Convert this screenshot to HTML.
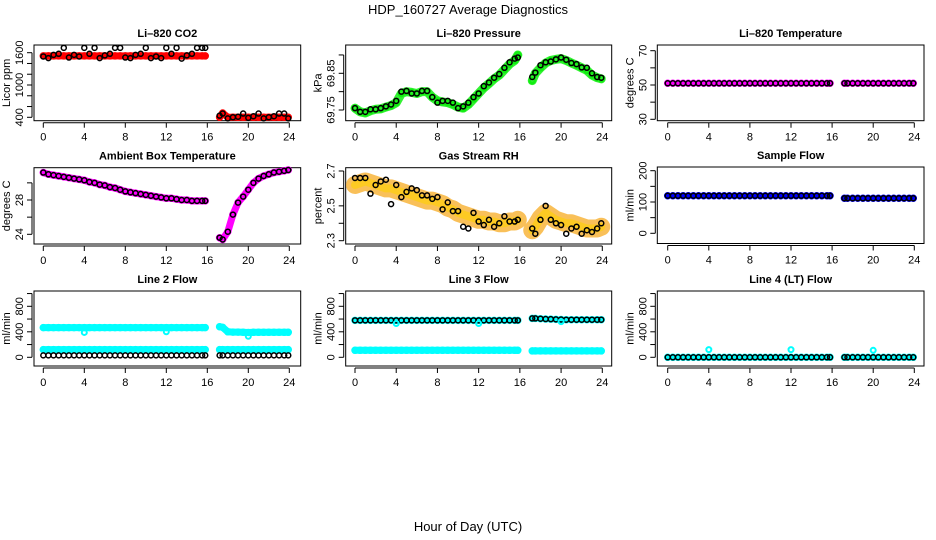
<!DOCTYPE html>
<html><head><meta charset="utf-8">
<style>
html,body{margin:0;padding:0;background:#fff;}
svg{display:block;font-family:"Liberation Sans",Arial,sans-serif;}
</style></head>
<body>
<svg id="chart" width="936" height="540" viewBox="0 0 936 540" xmlns="http://www.w3.org/2000/svg">
<text x="468" y="14" text-anchor="middle" font-size="13">HDP_160727  Average Diagnostics</text>
<text x="468" y="531" text-anchor="middle" font-size="13">Hour of Day (UTC)</text>
</svg>
<script>
// shared time categories (hours)
const hours = [0,0.5,1,1.5,2,2.5,3,3.5,4,4.5,5,5.5,6,6.5,7,7.5,8,8.5,9,9.5,10,10.5,11,11.5,12,12.5,13,13.5,14,14.5,15,15.5,15.8,
  17.2,17.5,18,18.5,19,19.5,20,20.5,21,21.5,22,22.5,23,23.5,23.9];
const xTicks = [0,4,8,12,16,20,24];

// Li-820 CO2
const co2Band = [1540,1540,1540,1540,1540,1540,1540,1540,1540,1540,1540,1540,1540,1540,1540,1540,1540,1540,1540,1540,1540,1540,1540,1540,1540,1540,1540,1540,1540,1540,1540,1540,1540,
  400,480,400,400,400,400,400,400,400,400,400,400,400,400,400];
const co2Black = [1530,1500,1560,1580,1690,1510,1560,1530,1690,1580,1690,1500,1550,1580,1690,1690,1510,1500,1560,1580,1690,1500,1530,1500,1690,1580,1690,1490,1550,1580,1690,1690,1690,
  430,470,380,400,410,470,390,420,470,380,400,420,470,470,380];
// Li-820 Pressure
const presBand = [69.755,69.745,69.742,69.748,69.752,69.753,69.758,69.762,69.770,69.795,69.800,69.798,69.795,69.800,69.800,69.785,69.775,69.772,69.770,69.765,69.758,69.755,69.765,69.780,69.795,69.810,69.822,69.835,69.845,69.860,69.875,69.885,69.900,
  69.830,69.850,69.865,69.878,69.885,69.888,69.890,69.885,69.878,69.872,69.865,69.858,69.845,69.838,69.835];
const presBlack = [69.755,69.745,69.745,69.752,69.752,69.755,69.760,69.765,69.775,69.800,69.802,69.795,69.795,69.802,69.802,69.785,69.770,69.775,69.775,69.770,69.755,69.760,69.770,69.785,69.795,69.815,69.825,69.838,69.848,69.865,69.880,69.890,69.893,
  69.840,69.852,69.872,69.880,69.882,69.888,69.893,69.887,69.878,69.875,69.866,69.865,69.850,69.840,69.838];
// Li-820 Temperature
const tempBand = [51,51,51,51,51,51,51,51,51,51,51,51,51,51,51,51,51,51,51,51,51,51,51,51,51,51,51,51,51,51,51,51,51,
  51,51,51,51,51,51,51,51,51,51,51,51,51,51,51];
const tempBlack = tempBand.slice();
// Ambient Box Temperature
const ambBand = [31.2,31.0,30.9,30.8,30.7,30.6,30.5,30.4,30.3,30.1,30.0,29.8,29.7,29.5,29.4,29.2,29.0,28.9,28.8,28.7,28.6,28.5,28.4,28.3,28.2,28.2,28.1,28.0,28.0,27.9,27.9,27.9,27.9,
  23.6,23.4,24.3,26.3,27.7,28.4,29.2,30.0,30.5,30.8,31.0,31.2,31.3,31.4,31.5];
const ambBlack = ambBand.slice();
// Gas Stream RH
const rhBand = [2.62,2.63,2.64,2.63,2.62,2.61,2.60,2.60,2.59,2.58,2.57,2.56,2.55,2.54,2.53,2.53,2.52,2.51,2.49,2.48,2.46,2.45,2.44,2.43,2.42,2.42,2.41,2.41,2.40,2.40,2.41,2.41,2.42,
  2.36,2.38,2.43,2.46,2.44,2.42,2.41,2.40,2.40,2.39,2.38,2.37,2.37,2.37,2.38];
const rhBlack = [2.66,2.66,2.66,2.57,2.62,2.64,2.65,2.51,2.62,2.55,2.58,2.60,2.59,2.56,2.56,2.54,2.55,2.48,2.52,2.47,2.47,2.38,2.37,2.46,2.41,2.39,2.42,2.38,2.40,2.44,2.41,2.41,2.42,
  2.37,2.34,2.42,2.50,2.42,2.40,2.39,2.34,2.37,2.38,2.34,2.36,2.35,2.37,2.40];
// Sample Flow
const sfBand = [120,120,120,120,120,120,120,120,120,120,120,120,120,120,120,120,120,120,120,120,120,120,120,120,120,120,120,120,120,120,120,120,120,
  112,112,112,112,112,112,112,112,112,112,112,112,112,112,112];
const sfBlack = sfBand.slice();
// Line 2 Flow
const l2Upper = [465,465,465,465,465,465,465,465,465,465,465,465,465,465,465,465,465,465,465,465,465,465,465,465,465,465,465,465,465,465,465,465,465,
  480,470,400,395,395,392,390,392,392,392,392,392,392,392,392];
const l2Lower = [120,120,120,120,120,120,120,120,120,120,120,120,120,120,120,120,120,120,120,120,120,120,120,120,120,120,120,120,120,120,120,120,120,
  120,120,120,120,120,120,120,120,120,120,120,120,120,120,120];
const l2Black = [30,30,30,30,30,30,30,30,30,30,30,30,30,30,30,30,30,30,30,30,30,30,30,30,30,30,30,30,30,30,30,30,30,
  30,30,30,30,30,30,30,30,30,30,30,30,30,30,30];
const l2OutHours = [4,12,20];
const l2OutVals = [390,400,330];
// Line 3 Flow
const l3Upper = [580,580,580,580,580,580,580,580,580,580,580,580,580,580,580,580,580,580,580,580,580,580,580,580,580,580,580,580,580,580,580,580,580,
  610,610,605,600,598,595,592,590,590,590,590,590,590,590,590];
const l3Lower = [110,110,110,110,110,110,110,110,110,110,110,110,110,110,110,110,110,110,110,110,110,110,110,110,110,110,110,110,110,110,110,110,110,
  100,100,100,100,100,100,100,100,100,100,100,100,100,100,100];
const l3Black = l3Upper.slice();
const l3OutHours = [4,12,20];
const l3OutVals = [530,530,560];
// Line 4 Flow
const l4Band = [0,0,0,0,0,0,0,0,0,0,0,0,0,0,0,0,0,0,0,0,0,0,0,0,0,0,0,0,0,0,0,0,0,
  0,0,0,0,0,0,0,0,0,0,0,0,0,0,0];
const l4Black = l4Band.slice();
const l4OutHours = [4,12,20];
const l4OutVals = [120,120,110];

const NS = 'http://www.w3.org/2000/svg';
const svg = document.getElementById('chart');
function mk(tag, attrs, parent) {
  const e = document.createElementNS(NS, tag);
  for (const k in attrs) e.setAttribute(k, attrs[k]);
  (parent || svg).appendChild(e);
  return e;
}

function panel(cfg) {
  const g = mk('g', {});
  
  
  const [L, T, R, B] = cfg.box;
  const xs = h => cfg.x0 + (cfg.x24 - cfg.x0) * h / 24;
  const ys = v => cfg.ya + (cfg.yb - cfg.ya) * (v - cfg.va) / (cfg.vb - cfg.va);
  const t = mk('text', {x: (L + R) / 2, y: T - 8, 'text-anchor': 'middle', 'font-size': 11, 'font-weight': 'bold'}, g);
  t.textContent = cfg.title;
  
  
  const xa = mk('g', {}, g);
  
  
  mk('line', {x1: xs(0), x2: xs(24), y1: B + 2, y2: B + 2, stroke: '#000'}, xa);
  xTicks.forEach(h => {
    mk('line', {x1: xs(h), x2: xs(h), y1: B + 2, y2: B + 7, stroke: '#000'}, xa);
    const l = mk('text', {x: xs(h), y: B + 20, 'text-anchor': 'middle', 'font-size': 11}, xa);
    l.textContent = h;
    
    
  });
  const ya = mk('g', {}, g);
  
  
  const tk = cfg.yTicks;
  mk('line', {x1: L - 2, x2: L - 2, y1: ys(tk[0]), y2: ys(tk[tk.length - 1]), stroke: '#000'}, ya);
  tk.forEach(v => mk('line', {x1: L - 7, x2: L - 2, y1: ys(v), y2: ys(v), stroke: '#000'}, ya));
  cfg.yLabels.forEach(v => {
    const y = ys(parseFloat(v));
    const l = mk('text', {x: L - 11, y: y, 'text-anchor': 'middle', 'font-size': 11, transform: `rotate(-90 ${L - 11} ${y})`}, ya);
    l.textContent = v;
    
    
  });
  const yt = mk('text', {x: L - 24, y: (T + B) / 2, 'text-anchor': 'middle', 'font-size': 11, transform: `rotate(-90 ${L - 24} ${(T + B) / 2})`}, g);
  yt.textContent = cfg.ylab;
  
  
  const bx = mk('rect', {x: L, y: T, width: R - L, height: B - T, fill: 'none', stroke: '#000'}, g);
  
  
  cfg.series.forEach(s => {
    const sg = mk('g', {}, g);
    
    
    const hs = s.hours || hours;
    if (s.band) {
      [[0, 33], [33, hs.length]].forEach(([a, b]) => {
        const pts = [];
        for (let i = a; i < b; i++) pts.push(xs(hs[i]) + ',' + ys(s.vals[i]));
        const pl = mk('polyline', {points: pts.join(' '), fill: 'none', stroke: s.color, 'stroke-width': s.band, 'stroke-linejoin': 'round', 'stroke-linecap': 'round', opacity: s.op || 1}, sg);
        
        
      });
    }
    if (s.points !== false) {
      s.vals.forEach((v, i) => {
        const c = mk('circle', {cx: xs(hs[i]), cy: ys(v), r: s.r || 2.5, fill: 'none', stroke: s.color, 'stroke-width': s.sw || 1.5}, sg);
        
        
      });
    }
  });
}

const col = [
  {L: 34, R: 300.7, x0: 43.3, x24: 289.3},
  {L: 345.7, R: 611.7, x0: 355, x24: 602.3},
  {L: 657.3, R: 924, x0: 667.7, x24: 914.3}
];
function P(c, T, B, o) {
  return Object.assign({box: [col[c].L, T, col[c].R, B], x0: col[c].x0, x24: col[c].x24}, o);
}

panel(P(0, 45, 120.7, {name: 'panel-co2', title: 'Li\u2013820 CO2', ylab: 'Licor ppm', va: 400, ya: 117.3, vb: 1600, yb: 52.7,
  yTicks: [400,600,800,1000,1200,1400,1600], yLabels: ['400','1000','1600'],
  series: [{name: 'co2-red', vals: co2Band, color: '#f00', band: 7, sw: 2.5}, {name: 'co2-black', vals: co2Black, color: '#000'}]}));
panel(P(1, 45, 120.7, {name: 'panel-pressure', title: 'Li\u2013820 Pressure', ylab: 'kPa', va: 69.75, ya: 110, vb: 69.85, yb: 73.3,
  yTicks: [69.75,69.80,69.85,69.90], yLabels: ['69.75','69.85'],
  series: [{name: 'pressure-green', vals: presBand, color: '#1e1', band: 9, sw: 2.5, op: 0.85}, {name: 'pressure-black', vals: presBlack, color: '#000'}]}));
panel(P(2, 45, 120.7, {name: 'panel-li820-temp', title: 'Li\u2013820 Temperature', ylab: 'degrees C', va: 30, ya: 119.3, vb: 70, yb: 50.7,
  yTicks: [30,40,50,60,70], yLabels: ['30','50','70'],
  series: [{name: 'temp-magenta', vals: tempBand, color: '#f0f', band: 5, sw: 2.5}, {name: 'temp-black', vals: tempBlack, color: '#000'}]}));
panel(P(0, 167.7, 244, {name: 'panel-ambient', title: 'Ambient Box Temperature', ylab: 'degrees C', va: 24, ya: 234.3, vb: 28, yb: 200,
  yTicks: [24,26,28,30], yLabels: ['24','28'],
  series: [{name: 'ambient-magenta', vals: ambBand, color: '#f0f', band: 7, sw: 2.5}, {name: 'ambient-black', vals: ambBlack, color: '#000'}]}));
panel(P(1, 167.7, 244, {name: 'panel-rh', title: 'Gas Stream RH', ylab: 'percent', va: 2.3, ya: 240.7, vb: 2.7, yb: 171,
  yTicks: [2.3,2.4,2.5,2.6,2.7], yLabels: ['2.3','2.5','2.7'],
  series: [{name: 'rh-band', vals: rhBand, color: '#f7b030', band: 18, op: 0.8, points: false},
           {name: 'rh-yellow', vals: rhBand, color: '#ffd000', band: 8, op: 0.6, points: false},
           {name: 'rh-black', vals: rhBlack, color: '#000'}]}));
panel(P(2, 167, 243.5, {name: 'panel-sample-flow', title: 'Sample Flow', ylab: 'ml/min', va: 0, ya: 233.3, vb: 200, yb: 170.7,
  yTicks: [0,50,100,150,200], yLabels: ['0','100','200'],
  series: [{name: 'sample-blue', vals: sfBand, color: '#00f', band: 5, sw: 2.5}, {name: 'sample-black', vals: sfBlack, color: '#000'}]}));
panel(P(0, 291, 366, {name: 'panel-line2', title: 'Line 2 Flow', ylab: 'ml/min', va: 0, ya: 357.3, vb: 800, yb: 306.3,
  yTicks: [0,200,400,600,800,1000], yLabels: ['0','400','800'],
  series: [{name: 'line2-upper', vals: l2Upper, color: '#0ff', band: 7, sw: 2.5}, {name: 'line2-lower', vals: l2Lower, color: '#0ff', band: 7, sw: 2.5},
           {name: 'line2-black', vals: l2Black, color: '#000'}, {name: 'line2-outliers', hours: l2OutHours, vals: l2OutVals, color: '#0ff', sw: 2}]}));
panel(P(1, 291, 366, {name: 'panel-line3', title: 'Line 3 Flow', ylab: 'ml/min', va: 0, ya: 357.3, vb: 800, yb: 306.3,
  yTicks: [0,200,400,600,800,1000], yLabels: ['0','400','800'],
  series: [{name: 'line3-upper', vals: l3Upper, color: '#0ff', band: 6, sw: 2.5}, {name: 'line3-lower', vals: l3Lower, color: '#0ff', band: 7, sw: 2.5},
           {name: 'line3-black', vals: l3Black, color: '#000'}, {name: 'line3-outliers', hours: l3OutHours, vals: l3OutVals, color: '#0ff', sw: 2}]}));
panel(P(2, 291, 366, {name: 'panel-line4', title: 'Line 4 (LT) Flow', ylab: 'ml/min', va: 0, ya: 357.3, vb: 800, yb: 306.3,
  yTicks: [0,200,400,600,800,1000], yLabels: ['0','400','800'],
  series: [{name: 'line4-cyan', vals: l4Band, color: '#0ff', band: 5, sw: 2.5}, {name: 'line4-black', vals: l4Black, color: '#000'},
           {name: 'line4-outliers', hours: l4OutHours, vals: l4OutVals, color: '#0ff', sw: 2}]}));
</script>
</body></html>
